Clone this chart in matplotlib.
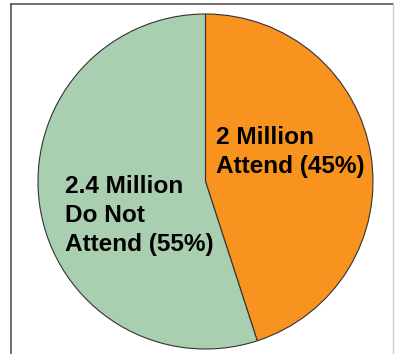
import matplotlib.pyplot as plt
from matplotlib.lines import Line2D

# Attendance split
labels = ["2 Million\nAttend (45%)", "2.4 Million\nDo Not\nAttend (55%)"]
shares = [45, 55]
colors = ["#F7931E", "#AACEB0"]

W, H = 395, 354
fig = plt.figure(figsize=(W / 100, H / 100), dpi=100)

# pie placed by pixel centre and radius
cx, cy, r = 205.5, 181.5, 167.5
ax = fig.add_axes([(cx - r) / W, (H - cy - r) / H, 2 * r / W, 2 * r / H])
ax.pie(shares, colors=colors, startangle=90, counterclock=False,
       wedgeprops={"edgecolor": "#333333", "linewidth": 0.8})
ax.set_xlim(-1, 1)
ax.set_ylim(-1, 1)


def to_data(px, py):
    return (px - cx) / r, (cy - py) / r


font = {"family": "Liberation Sans", "weight": "bold", "size": 17.6}
x, y = to_data(216, 152)
ax.text(x, y, labels[0], ha="left", va="center", linespacing=1.33, **font)
x, y = to_data(65, 215.5)
ax.text(x, y, labels[1], ha="left", va="center", linespacing=1.33, **font)

# frame around the panel
fig.add_artist(Line2D([11 / W, 11 / W], [0, 1 - 4 / H], color="#555555", lw=1.2))
fig.add_artist(Line2D([11 / W, 393 / W], [1 - 4 / H, 1 - 4 / H], color="#555555", lw=1.2))
fig.add_artist(Line2D([393 / W, 393 / W], [0, 1 - 4 / H], color="#cccccc", lw=1))

fig.savefig("out.png", dpi=100)
